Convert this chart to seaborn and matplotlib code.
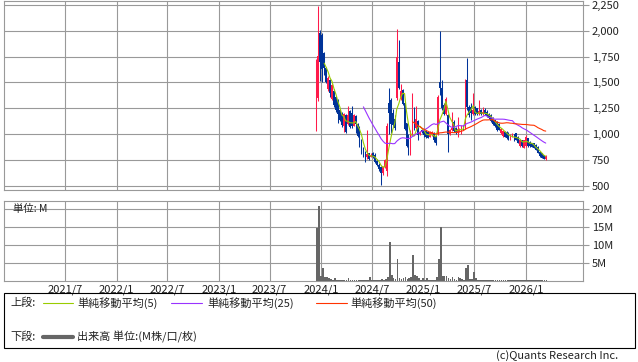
import numpy as np
import pandas as pd
import matplotlib
matplotlib.use("Agg")
import matplotlib.pyplot as plt
import seaborn as sns
from matplotlib.patches import Rectangle
from matplotlib.lines import Line2D

sns.set_style("white")
plt.rcParams["font.family"] = ["Noto Sans CJK JP", "DejaVu Sans"]

# ---------------- data (weekly candles) ----------------
opens = [1040, 1350, 1980, 1960, 1780, 1640, 1440, 1520, 1340, 1420,
         1360, 1330, 1230, 1200, 1080, 1180, 1100, 1220, 1200, 1080,
         1170, 1100, 1070, 940, 860, 830, 780, 813, 780, 820,
         800, 740, 700, 680, 620, 680, 640, 1300, 1330, 1200,
         1150, 1346, 1700, 1340, 1430, 1300, 1104, 900, 820, 1000,
         1200, 1060, 1130, 1000, 1040, 1030, 1030, 1020, 975, 990,
         1010, 980, 1010, 1500, 1450, 1280, 1190, 1180, 1000, 1040,
         1120, 1060, 1010, 1020, 1010, 1080, 1050, 1520, 1265, 1260,
         1190, 1260, 1250, 1190, 1230, 1190, 1233, 1217, 1190, 1184,
         1152, 1136, 1120, 1100, 1010, 980, 1020, 1020, 1007, 950,
         975, 1000, 1007, 974, 880, 940, 865, 880, 958, 926,
         910, 910, 894, 878, 829, 813, 797, 755]
highs = [1724, 2240, 2010, 1975, 1790, 1650, 1560, 1530, 1480, 1440,
         1370, 1340, 1240, 1210, 1200, 1190, 1270, 1230, 1271, 1190,
         1180, 1110, 1075, 950, 870, 835, 1039, 820, 813, 829,
         813, 760, 716, 690, 690, 760, 1110, 1443, 1350, 1240,
         1180, 2014, 1910, 1480, 1440, 1310, 1110, 1000, 1040, 1394,
         1265, 1271, 1140, 1030, 1050, 1040, 1040, 1030, 1025, 1030,
         1020, 990, 1380, 1997, 1523, 1300, 1362, 1190, 1050, 1217,
         1136, 1070, 1168, 1060, 1090, 1090, 1530, 1733, 1280, 1300,
         1394, 1270, 1255, 1330, 1240, 1260, 1250, 1230, 1200, 1190,
         1160, 1140, 1125, 1110, 1060, 1040, 1030, 1025, 1020, 1000,
         1010, 1005, 1010, 980, 945, 945, 945, 990, 965, 930,
         915, 912, 900, 880, 835, 815, 800, 797]
lows = [1032, 1320, 1510, 1507, 1572, 1491, 1420, 1362, 1330, 1265,
        1217, 1104, 1130, 1070, 1023, 1007, 1090, 1055, 1055, 1075,
        1007, 974, 878, 810, 781, 732, 760, 749, 775, 765,
        716, 690, 640, 507, 600, 670, 590, 1000, 1010, 1070,
        1040, 1330, 1440, 1330, 1280, 1040, 870, 797, 800, 990,
        1039, 1050, 942, 990, 1010, 974, 960, 958, 970, 985,
        920, 894, 990, 1380, 1233, 1180, 1180, 829, 990, 1030,
        1020, 1000, 974, 1015, 1000, 1040, 1050, 1232, 1168, 1140,
        1180, 1184, 1180, 1180, 1180, 1180, 1180, 1160, 1150, 1120,
        1090, 1070, 1030, 1035, 1000, 970, 970, 950, 940, 940,
        970, 930, 940, 910, 875, 878, 860, 870, 878, 878,
        870, 862, 845, 813, 781, 765, 755, 749]
closes = [1700, 1760, 1700, 1630, 1640, 1500, 1540, 1400, 1470, 1280,
          1230, 1190, 1140, 1090, 1190, 1020, 1180, 1070, 1080, 1180,
          1100, 985, 890, 820, 790, 780, 810, 760, 800, 775,
          730, 700, 660, 620, 680, 750, 1080, 1200, 1100, 1090,
          1060, 1750, 1450, 1420, 1290, 1050, 880, 820, 1000, 1150,
          1060, 1150, 990, 1023, 1020, 990, 970, 965, 1020, 1020,
          940, 915, 1360, 1450, 1250, 1190, 1340, 1000, 1040, 1060,
          1030, 1010, 1050, 1050, 1080, 1050, 1500, 1260, 1180, 1200,
          1230, 1190, 1190, 1220, 1190, 1215, 1190, 1170, 1155, 1130,
          1100, 1075, 1040, 1040, 1050, 1030, 975, 960, 950, 990,
          1005, 940, 945, 915, 940, 880, 940, 970, 885, 880,
          878, 865, 848, 815, 785, 770, 760, 790]
volumes = [14.7, 20.6, 1.3, 3.6, 1.1, 1.0, 0.7, 0.4, 0.25, 0.7,
           0.3, 0.2, 0.2, 0.15, 0.2, 0.15, 0.7, 0.2, 0.15, 0.15,
           0.1, 0.15, 0.2, 0.15, 0.1, 0.1, 0.3, 1.1, 0.3, 0.2,
           0.15, 0.2, 0.3, 0.4, 0.3, 0.4, 1.1, 10.7, 1.6, 0.8,
           0.5, 6.0, 0.8, 0.5, 0.7, 1.1, 0.4, 0.7, 1.1, 7.1,
           1.6, 1.3, 0.8, 0.3, 0.7, 0.3, 0.7, 0.3, 0.2, 0.2,
           0.3, 1.1, 6.0, 15.0, 1.3, 1.3, 1.3, 0.7, 0.4, 0.9,
           0.5, 0.3, 0.9, 0.7, 0.5, 0.3, 3.4, 4.4, 0.5, 0.4,
           2.5, 0.7, 0.3, 0.25, 0.2, 0.2, 0.2, 0.15, 0.15, 0.15,
           0.1, 0.1, 0.15, 0.1, 0.1, 0.1, 0.1, 0.1, 0.1, 0.1,
           0.1, 0.1, 0.1, 0.1, 0.1, 0.1, 0.1, 0.1, 0.1, 0.1,
           0.1, 0.1, 0.1, 0.1, 0.1, 0.1, 0.1, 0.1]
dates = pd.date_range("2023-12-15", periods=len(closes), freq="7D")

price_ticks = [500, 750, 1000, 1250, 1500, 1750, 2000, 2250]
vol_ticks = [5, 10, 15, 20]
vol_tick_labels = ["5M", "10M", "15M", "20M"]
x_tick_dates = ["2021-07-01", "2022-01-01", "2022-07-01", "2023-01-01", "2023-07-01",
                "2024-01-01", "2024-07-01", "2025-01-01", "2025-07-01", "2026-01-01"]
x_tick_labels = ["2021/7", "2022/1", "2022/7", "2023/1", "2023/7",
                 "2024/1", "2024/7", "2025/1", "2025/7", "2026/1"]
ma_periods = [5, 25, 50]
ma_colors = ["#99cc00", "#9933ff", "#ff3300"]

# ---------------- figure ----------------
UP, DOWN = "#ff1a4a", "#003399"
GRID = "#999999"
TXT = "#222222"
W, H = 638, 362
fig = plt.figure(figsize=(W / 100, H / 100), dpi=100)


def rect(l, t, r, b):
    return [l / W, 1 - b / H, (r - l) / W, (b - t) / H]


ax = fig.add_axes(rect(3.5, 1, 582.7, 190))
axv = fig.add_axes(rect(3.5, 201, 582.7, 280.7))

df = pd.DataFrame({"date": dates, "open": opens, "high": highs,
                   "low": lows, "close": closes, "volume": volumes})
O = df["open"].to_numpy(float)
C = df["close"].to_numpy(float)
cols = np.where(C >= O, UP, DOWN)

# candles
ax.vlines(df["date"], df["low"], df["high"], colors=cols, lw=0.75, zorder=3)
ax.bar(df["date"], np.maximum(np.abs(C - O), 8), bottom=np.minimum(O, C),
       width=6.0, color=cols, linewidth=0, zorder=3)

# moving averages
for p, c in zip(ma_periods, ma_colors):
    df[f"ma{p}"] = df["close"].rolling(p).mean()
    sub = df.dropna(subset=[f"ma{p}"])
    sns.lineplot(data=sub, x="date", y=f"ma{p}", ax=ax, color=c, lw=0.8,
                 zorder=4, legend=False)

# volume
axv.bar(df["date"], df["volume"], width=6.0, align="edge",
        color="#666666", linewidth=0, zorder=3)

xt = pd.to_datetime(x_tick_dates)
xlim = (pd.Timestamp("2020-11-23"), pd.Timestamp("2026-07-23"))
for a in (ax, axv):
    a.set_xlim(xlim)
    a.set_xticks(xt)
    a.grid(True, color=GRID, lw=0.8)
    a.set_axisbelow(True)
    a.set_xlabel("")
    a.set_ylabel("")
    a.yaxis.tick_right()
    for s in a.spines.values():
        s.set_color(GRID)
        s.set_linewidth(0.8)
    a.tick_params(axis="y", length=4.3, color=GRID, width=0.8, pad=2.2,
                  labelsize=8, labelcolor=TXT)
    a.tick_params(axis="x", length=0, labelsize=8, labelcolor=TXT, pad=2.5)

ax.set_ylim(458, 2288)
ax.set_yticks(price_ticks)
ax.set_yticklabels([f"{v:,}" for v in price_ticks])
ax.tick_params(axis="x", labelbottom=False)

axv.set_ylim(0, 22.1)
axv.set_yticks(vol_ticks)
axv.set_yticklabels(vol_tick_labels)
axv.set_xticklabels(x_tick_labels)
axv.text(9 / 578, 0.9, "単位: M", transform=axv.transAxes, fontsize=7.5,
         color=TXT, va="center", ha="left")

# legend box
fig.add_artist(Rectangle((4 / W, 1 - 348 / H), (635 - 4) / W, (348 - 293) / H,
                         transform=fig.transFigure, fill=False, ec="black", lw=0.8))


def ftext(x, y, s, **kw):
    fig.text(x / W, 1 - y / H, s, fontsize=8, color=TXT, va="center", **kw)


def fline(x0, x1, y, color, lw):
    fig.add_artist(Line2D([x0 / W, x1 / W], [1 - y / H, 1 - y / H],
                          transform=fig.transFigure, color=color, lw=lw))


y1, y2 = 303, 337
ftext(10, y1, "上段:")
fline(43, 73, y1, ma_colors[0], 0.8)
ftext(77, y1, "単純移動平均(5)")
fline(171, 202, y1, ma_colors[1], 0.8)
ftext(207, y1, "単純移動平均(25)")
fline(316, 347, y1, ma_colors[2], 0.8)
ftext(350, y1, "単純移動平均(50)")
ftext(10, y2, "下段:")
fline(43, 73, y2, "#666666", 3)
ftext(77, y2, "出来高 単位:(M株/口/枚)")
ftext(618, 356, "(c)Quants Research Inc.", ha="right")

fig.savefig("out.png", dpi=100, facecolor="white")
